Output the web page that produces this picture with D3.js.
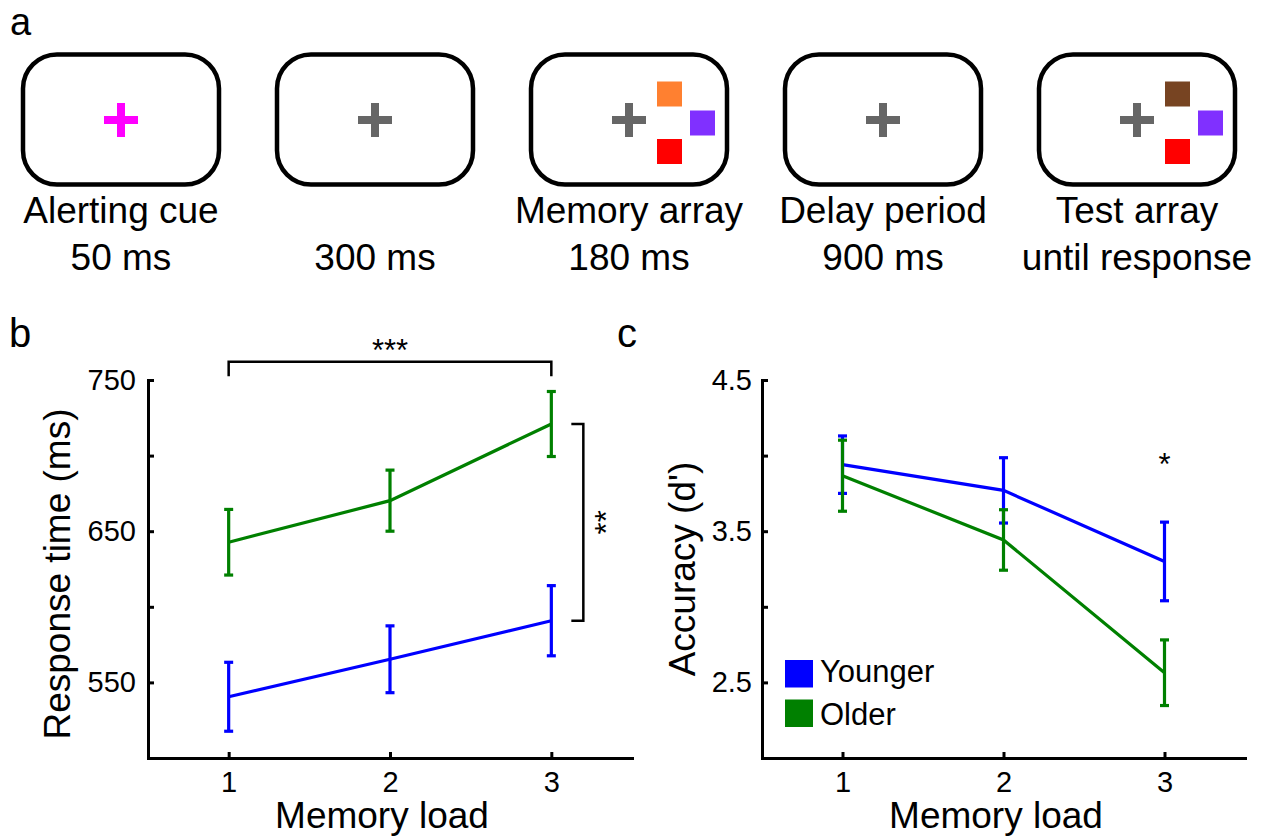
<!DOCTYPE html>
<html>
<head>
<meta charset="utf-8">
<script src="https://cdn.jsdelivr.net/npm/d3@7"></script>
<style>
body { margin: 0; background: #fff; }
svg { display: block; font-family: "Liberation Sans", Arial, Helvetica, sans-serif; }
</style>
</head>
<body>
<script>
// panel a: trial sequence
const stepNames = ["Alerting cue", "", "Memory array", "Delay period", "Test array"];
const stepTimes = ["50 ms", "300 ms", "180 ms", "900 ms", "until response"];
const crossColors = ["#ff00ff", "#666666", "#666666", "#666666", "#666666"];
const memoryColors = ["#ff8030", "#8030ff", "#ff0000"];
const testColors = ["#774422", "#8030ff", "#ff0000"];
const squareColors = [[], [], memoryColors, [], testColors];

// panels b and c
const loads = [1, 2, 3];
const groups = ["Younger", "Older"];
const groupColors = ["#0000ff", "#008000"];
const rtYounger = [540.5, 565.3, 590.8];
const rtYoungerErr = [22.8, 22.1, 23.2];
const rtOlder = [642.7, 670.2, 720.9];
const rtOlderErr = [21.7, 20.2, 21.5];
const dYounger = [3.94, 3.77, 3.30];
const dYoungerErr = [0.19, 0.216, 0.26];
const dOlder = [3.867, 3.442, 2.564];
const dOlderErr = [0.235, 0.2, 0.217];
const rtTicks = [550, 600, 650, 700, 750];
const rtLabels = ["550", "", "650", "", "750"];
const dTicks = [2.5, 3, 3.5, 4, 4.5];
const dLabels = ["2.5", "", "3.5", "", "4.5"];

const svg = d3.select("body").append("svg")
    .attr("width", 1265)
    .attr("height", 836);

// panel letters
svg.append("text").attr("x", 10).attr("y", 35).attr("font-size", 38).text("a");
svg.append("text").attr("x", 9).attr("y", 347).attr("font-size", 40).text("b");
svg.append("text").attr("x", 617).attr("y", 347).attr("font-size", 40).text("c");

// ---- panel a ----
const boxX = d3.scaleLinear().domain([0, 4]).range([121, 1137]);
const boxW = 196, boxH = 130, boxTop = 54.5, crossY = 120;
// square offsets from the cross centre: top, right, bottom
const squarePos = [[28, -38.5], [61, -9.5], [28, 19]];

stepNames.forEach((name, i) => {
    const cx = boxX(i);
    const g = svg.append("g");
    g.append("rect")
        .attr("x", cx - boxW / 2).attr("y", boxTop)
        .attr("width", boxW).attr("height", boxH)
        .attr("rx", 34).attr("ry", 34)
        .attr("fill", "none").attr("stroke", "#000").attr("stroke-width", 4.5);
    // fixation cross
    g.append("rect").attr("x", cx - 17).attr("y", crossY - 4).attr("width", 34).attr("height", 8).attr("fill", crossColors[i]);
    g.append("rect").attr("x", cx - 4).attr("y", crossY - 17).attr("width", 8).attr("height", 34).attr("fill", crossColors[i]);
    // coloured squares
    squareColors[i].forEach((c, j) => {
        g.append("rect")
            .attr("x", cx + squarePos[j][0]).attr("y", crossY + squarePos[j][1])
            .attr("width", 25).attr("height", 25).attr("fill", c);
    });
    g.append("text").attr("x", cx).attr("y", 223).attr("text-anchor", "middle").attr("font-size", 37).text(name);
    g.append("text").attr("x", cx).attr("y", 270).attr("text-anchor", "middle").attr("font-size", 37).text(stepTimes[i]);
});

// ---- line panels ----
function linePanel(cfg) {
    const g = svg.append("g");
    const x = d3.scaleLinear().domain([0.5, 3.5]).range(cfg.xRange);
    const y = d3.scaleLinear().domain(cfg.yDomain).range([758, 380]);

    const yAxis = d3.axisLeft(y)
        .tickValues(cfg.ticks)
        .tickFormat((d, i) => cfg.labels[i])
        .tickSizeInner(-6).tickSizeOuter(0).tickPadding(cfg.pad);
    const xAxis = d3.axisBottom(x)
        .tickValues(loads)
        .tickFormat(d3.format("d"))
        .tickSizeInner(-6).tickSizeOuter(0).tickPadding(13);

    const ga = g.append("g").attr("transform", `translate(${cfg.xRange[0]},0)`).call(yAxis);
    const gb = g.append("g").attr("transform", "translate(0,758)").call(xAxis);
    [ga, gb].forEach(a => {
        a.select(".domain").attr("stroke-width", 3).attr("stroke-linecap", "square");
        a.selectAll(".tick line").attr("stroke-width", 3);
        a.selectAll(".tick text").attr("font-size", 29).attr("fill", "#000")
            .attr("font-family", "Liberation Sans, Arial, sans-serif");
    });

    const line = d3.line().x((d, i) => x(loads[i])).y(d => y(d));
    cfg.series.forEach((s, k) => {
        g.append("path").datum(s.mean)
            .attr("d", line).attr("fill", "none")
            .attr("stroke", groupColors[k]).attr("stroke-width", 3.2);
        const eb = g.append("g").attr("stroke", groupColors[k]).attr("stroke-width", 3.2);
        s.mean.forEach((m, i) => {
            const xi = x(loads[i]);
            eb.append("line").attr("x1", xi).attr("x2", xi).attr("y1", y(m - s.err[i])).attr("y2", y(m + s.err[i]));
            eb.append("line").attr("x1", xi - 4.5).attr("x2", xi + 4.5).attr("y1", y(m - s.err[i])).attr("y2", y(m - s.err[i]));
            eb.append("line").attr("x1", xi - 4.5).attr("x2", xi + 4.5).attr("y1", y(m + s.err[i])).attr("y2", y(m + s.err[i]));
        });
    });

    g.append("text")
        .attr("transform", `translate(${cfg.labelX},${cfg.labelY}) rotate(-90)`)
        .attr("text-anchor", "middle").attr("font-size", 37).text(cfg.yTitle);
    g.append("text")
        .attr("x", cfg.xTitleX).attr("y", 828)
        .attr("text-anchor", "middle").attr("font-size", 37).text("Memory load");
    return { g, x, y };
}

// panel b
const pb = linePanel({
    xRange: [148, 632], yDomain: [500, 750],
    ticks: rtTicks, labels: rtLabels, pad: 12,
    series: [{ mean: rtYounger, err: rtYoungerErr }, { mean: rtOlder, err: rtOlderErr }],
    yTitle: "Response time (ms)", labelX: 70, labelY: 574, xTitleX: 382
});
// load effect bracket
pb.g.append("path")
    .attr("d", `M${pb.x(1)},${pb.y(752.5)}V${pb.y(762)}H${pb.x(3)}V${pb.y(752.5)}`)
    .attr("fill", "none").attr("stroke", "#000").attr("stroke-width", 2.5);
pb.g.append("text").attr("x", pb.x(2)).attr("y", pb.y(762) - 1).attr("text-anchor", "middle")
    .attr("font-size", 31).text("***");
// group effect bracket
const bx = pb.x(3);
pb.g.append("path")
    .attr("d", `M${bx + 20},${pb.y(rtOlder[2])}H${bx + 32}V${pb.y(rtYounger[2])}H${bx + 20}`)
    .attr("fill", "none").attr("stroke", "#000").attr("stroke-width", 2.5);
pb.g.append("text")
    .attr("transform", `translate(${bx + 66},${(pb.y(rtOlder[2]) + pb.y(rtYounger[2])) / 2}) rotate(-90)`)
    .attr("text-anchor", "middle").attr("font-size", 31).text("**");

// panel c
const pc = linePanel({
    xRange: [762, 1245], yDomain: [2, 4.5],
    ticks: dTicks, labels: dLabels, pad: 10,
    series: [{ mean: dYounger, err: dYoungerErr }, { mean: dOlder, err: dOlderErr }],
    yTitle: "Accuracy (d')", labelX: 695, labelY: 569, xTitleX: 996
});
pc.g.append("text").attr("x", pc.x(3)).attr("y", 475).attr("text-anchor", "middle")
    .attr("font-size", 31).text("*");

// legend
const legend = pc.g.append("g").attr("transform", "translate(785,660)");
groups.forEach((name, k) => {
    legend.append("rect").attr("x", 0).attr("y", k * 39.5).attr("width", 28).attr("height", 27.5).attr("fill", groupColors[k]);
    legend.append("text").attr("x", 35).attr("y", 22 + k * 43).attr("font-size", 31).text(name);
});
</script>
</body>
</html>
